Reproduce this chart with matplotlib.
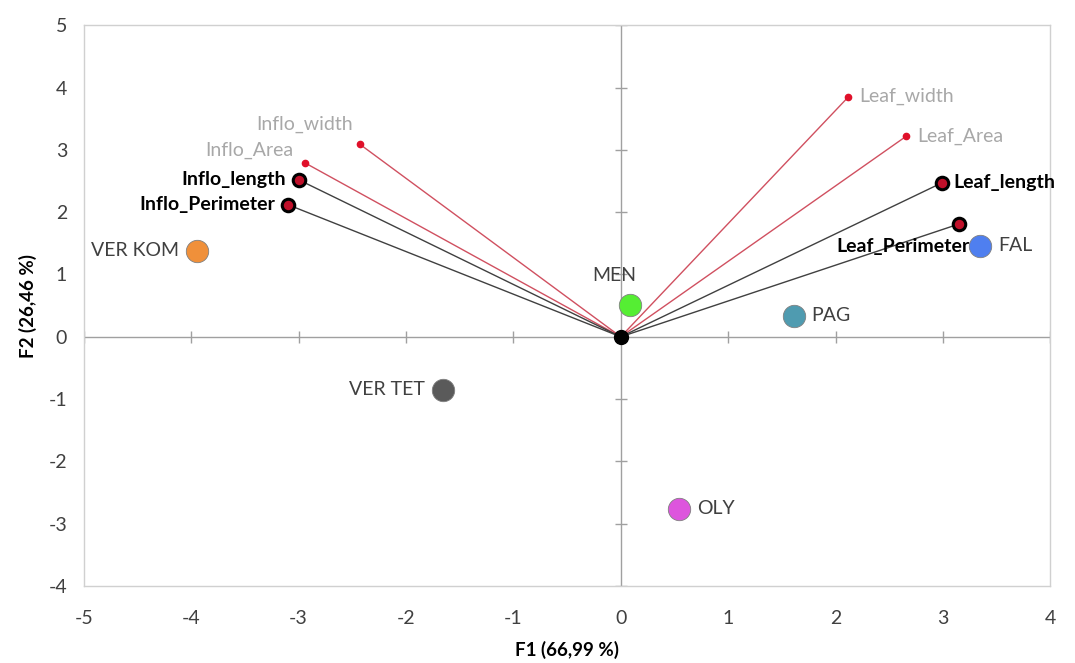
import matplotlib.pyplot as plt

plt.rcParams['font.family'] = ['Lato', 'DejaVu Sans']
plt.rcParams['axes.unicode_minus'] = False

# observations (sample scores)
obs_names = ['VER KOM', 'VER TET', 'MEN', 'PAG', 'FAL', 'OLY']
obs_x = [-3.95, -1.66, 0.09, 1.61, 3.35, 0.54]
obs_y = [1.38, -0.85, 0.51, 0.34, 1.46, -2.76]
obs_colors = ['#F0903A', '#5A5A5A', '#55EE33', '#4F9BB0', '#4F7FEF', '#DD55DD']

# variables (loadings, scaled)
var_names = ['Inflo_width', 'Inflo_Area', 'Inflo_length', 'Inflo_Perimeter',
             'Leaf_width', 'Leaf_Area', 'Leaf_length', 'Leaf_Perimeter']
var_x = [-2.43, -2.94, -3.00, -3.10, 2.12, 2.66, 2.99, 3.15]
var_y = [3.09, 2.79, 2.52, 2.12, 3.85, 3.22, 2.47, 1.81]
var_bold = [False, False, True, True, False, False, True, True]

x_ticks = list(range(-5, 5))
y_ticks = list(range(-4, 6))

# label offsets in points (dx, dy, ha)
obs_offsets = {
    'VER KOM': (-13, 0, 'right'), 'VER TET': (-13, 0, 'right'),
    'MEN': (-12, 21, 'center'), 'PAG': (13, 0, 'left'),
    'FAL': (13, 0, 'left'), 'OLY': (13, 0, 'left'),
}
var_offsets = {
    'Inflo_width': (-40, 14, 'center'), 'Inflo_Area': (-40, 9, 'center'),
    'Inflo_length': (-9, 0, 'right'), 'Inflo_Perimeter': (-9, 0, 'right'),
    'Leaf_width': (8, 0, 'left'), 'Leaf_Area': (8, 0, 'left'),
    'Leaf_length': (8, 0, 'left'), 'Leaf_Perimeter': (8, -16, 'right'),
}

fig = plt.figure(figsize=(10.75, 6.63), dpi=100)
ax = fig.add_axes([0.078, 0.116, 0.899, 0.846])

ax.set_xlim(-5, 4)
ax.set_ylim(-4, 5)
ax.set_xticks(x_ticks)
ax.set_yticks(y_ticks)
ax.tick_params(length=0, labelsize=14, colors='#404040')
ax.tick_params(axis='x', pad=17)
ax.tick_params(axis='y', pad=12)
for s in ax.spines.values():
    s.set_color('#D0D0D0')
    s.set_linewidth(1)

# center axes with tick marks
ax.axhline(0, color='#A0A0A0', lw=1, zorder=1)
ax.axvline(0, color='#A0A0A0', lw=1, zorder=1)
ax.plot(x_ticks, [0] * len(x_ticks), ls='none', marker='|', ms=8, color='#A0A0A0', zorder=1)
ax.plot([0] * len(y_ticks), y_ticks, ls='none', marker='_', ms=8, color='#A0A0A0', zorder=1)

# variable vectors
for name, x, y, b in zip(var_names, var_x, var_y, var_bold):
    lc = '#404040' if b else '#D05060'
    ax.plot([0, x], [0, y], color=lc, lw=1, zorder=2)
    if b:
        ax.plot(x, y, 'o', ms=9, mfc='#C0102A', mec='black', mew=2.2, zorder=4)
    else:
        ax.plot(x, y, 'o', ms=4.5, mfc='#E0102A', mec='#E0102A', zorder=4)
    dx, dy, ha = var_offsets[name]
    ax.annotate(name, (x, y), xytext=(dx, dy), textcoords='offset points',
                ha=ha, va='center', fontsize=14,
                color='black' if b else '#A8A8A8',
                fontweight='bold' if b else 'normal', zorder=5)

# origin
ax.plot(0, 0, 'o', ms=10, color='black', zorder=6)

# observations
for name, x, y, c in zip(obs_names, obs_x, obs_y, obs_colors):
    ax.scatter(x, y, s=260, color=c, edgecolors='#808080', linewidths=0.6, zorder=3)
    dx, dy, ha = obs_offsets[name]
    ax.annotate(name, (x, y), xytext=(dx, dy), textcoords='offset points',
                ha=ha, va='center', fontsize=14, color='#404040', zorder=5)

ax.set_xlabel('F1 (66,99 %)', fontsize=13.5, fontweight='bold', labelpad=10)
ax.set_ylabel('F2 (26,46 %)', fontsize=13.5, fontweight='bold', labelpad=8)

fig.savefig('out.png', dpi=100)
